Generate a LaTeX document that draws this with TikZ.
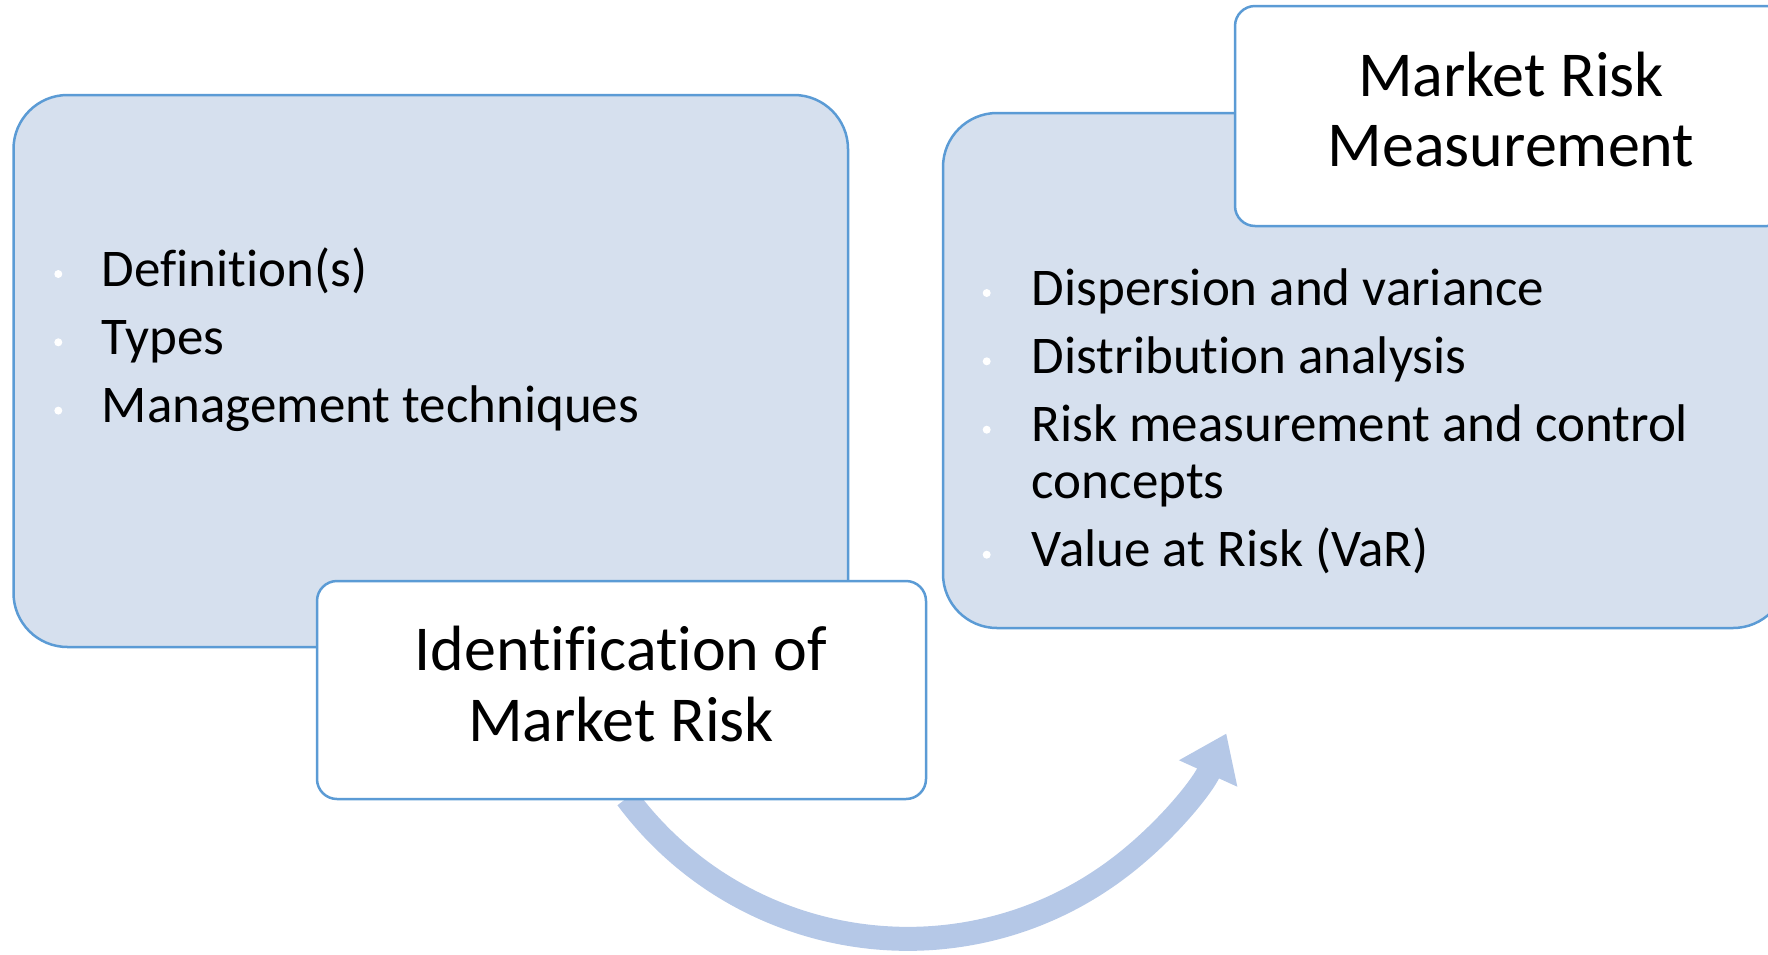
\documentclass[tikz,border=0pt]{standalone}
\usepackage{fontspec}
\setmainfont{Carlito}[Ligatures=NoCommon]
\usetikzlibrary{arrows.meta}
\definecolor{boxfill}{RGB}{214,224,238}
\definecolor{boxline}{RGB}{91,155,213}
\definecolor{arrowcol}{RGB}{181,200,231}
\tikzset{
  bigbox/.style={draw=boxline, fill=boxfill, line width=2.5pt, rounded corners=54pt},
  smallbox/.style={draw=boxline, fill=white, line width=2.5pt, rounded corners=20pt},
  titletext/.style={anchor=base, inner sep=0pt, font=\fontsize{64}{70}\selectfont},
  itemtext/.style={anchor=base west, inner sep=0pt, font=\fontsize{53}{57}\selectfont},
  bulletdot/.style={circle, fill=white, inner sep=0pt, minimum size=8pt},
  flow/.style={draw=arrowcol, line width=24pt, -{Triangle[length=44pt, width=61pt]}}
}
\begin{document}
\begin{tikzpicture}[x=1pt, y=-1pt]
\useasboundingbox (0,0) rectangle (1768,954);
% left content box
\path[bigbox] (13.5,95) rectangle (848,647);
% right content box
\path[bigbox] (943,113) rectangle (1787,628);
% arrow
\coordinate (arcstart) at (627,798);
\draw[flow] (arcstart) arc[start angle=143.3, end angle=24.4, radius=350];
% identification box
\path[smallbox] (317,581) rectangle (926,799);
\node[titletext] (id1) at (621,670) {Identification of};
\node[titletext] (id2) at (621,741.7) {Market Risk};
% title box
\path[smallbox] (1235,6) rectangle (1787,226);
\node[titletext] (mr1) at (1511,96.7) {Market Risk};
\node[titletext] (mr2) at (1511,166.7) {Measurement};
% left items
\node[itemtext] (l1) at (101.7,286) {Definition(s)};
\node[itemtext] (l2) at (101.7,354.3) {Types};
\node[itemtext] (l3) at (101.7,422.6) {Management techniques};
\node[bulletdot] (b1) at (58.3,274) {};
\node[bulletdot] (b2) at (58.3,342.3) {};
\node[bulletdot] (b3) at (58.3,410.6) {};
% right items
\node[itemtext] (r1) at (1031.7,305) {Dispersion and variance};
\node[itemtext] (r2) at (1031.7,373.3) {Distribution analysis};
\node[itemtext] (r3) at (1031.7,441.7) {Risk measurement and control};
\node[itemtext] (r3b) at (1031.7,498.3) {concepts};
\node[itemtext] (r4) at (1031.7,566.7) {Value at Risk (VaR)};
\node[bulletdot] (c1) at (986.7,293) {};
\node[bulletdot] (c2) at (986.7,361.3) {};
\node[bulletdot] (c3) at (986.7,429.7) {};
\node[bulletdot] (c4) at (986.7,554.7) {};
\end{tikzpicture}
\end{document}
